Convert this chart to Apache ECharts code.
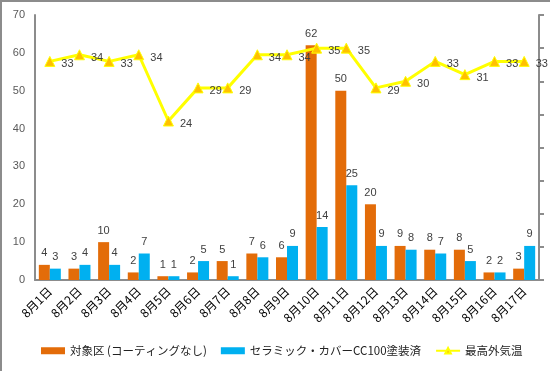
<!DOCTYPE html>
<html><head><meta charset="utf-8">
<script src="https://cdn.jsdelivr.net/npm/echarts@6/dist/echarts.min.js"></script>
<style>
html,body{margin:0;padding:0;background:#fff;}
#c{width:550px;height:371px;box-sizing:border-box;border-top:2px solid #8c8c8c;border-left:2px solid #8c8c8c;}
</style></head>
<body><div id="c"></div>
<script>
const categories = ['8月1日','8月2日','8月3日','8月4日','8月5日','8月6日','8月7日','8月8日','8月9日','8月10日','8月11日','8月12日','8月13日','8月14日','8月15日','8月16日','8月17日'];
const controlValues = [4,3,10,2,1,2,5,7,6,62,50,20,9,8,8,2,3];
const coatedValues = [3,4,4,7,1,5,1,6,9,14,25,9,8,7,5,2,9];
const maxTemp = [33,34,33,34,24,29,29,34,34,35,35,29,30,33,31,33,33];
const leftTicks = [0,10,20,30,40,50,60,70];

const chart = echarts.init(document.getElementById('c'));
const font = 'Liberation Sans, DejaVu Sans, Noto Sans CJK JP, sans-serif';
const jp = 'Noto Sans CJK JP, sans-serif';
const lblColor = '#404040';
chart.setOption({
  animation:false,
  textStyle:{fontFamily:font},
  grid:{left:33,right:11,top:13,bottom:91,containLabel:false},
  legend:{
    top:338,left:34,right:0,itemGap:14,itemWidth:24,itemHeight:7,
    textStyle:{fontSize:11.5,color:'#222',fontFamily:jp},
    data:[{name:'対象区 (コーティングなし)',icon:'rect'},{name:'セラミック・カバーCC100塗装済',icon:'rect'},{name:'最高外気温'}]
  },
  xAxis:{
    type:'category',data:categories,
    axisLine:{lineStyle:{color:'#8c8c8c',width:2}},
    axisTick:{show:false},
    axisLabel:{rotate:45,fontSize:12,color:'#000',margin:9,interval:0,fontFamily:jp}
  },
  yAxis:[
    {type:'value',min:leftTicks[0],max:leftTicks[leftTicks.length-1],interval:10,
     axisLine:{show:true,lineStyle:{color:'#8c8c8c',width:2}},axisTick:{show:false},
     splitLine:{show:false},
     axisLabel:{fontSize:11,color:'#595959',margin:10}},
    {type:'value',min:0,max:40,interval:5,position:'right',
     axisLine:{show:true,lineStyle:{color:'#8c8c8c',width:2}},
     axisTick:{show:true,inside:false,length:5,lineStyle:{color:'#8c8c8c',width:2}},
     splitLine:{show:false},axisLabel:{show:false}}
  ],
  series:[
    {name:'対象区 (コーティングなし)',type:'bar',data:controlValues,barWidth:11,barGap:'0%',
     itemStyle:{color:'#E36C09'},
     label:{show:true,position:'top',fontSize:11,color:lblColor,distance:6}},
    {name:'セラミック・カバーCC100塗装済',type:'bar',data:coatedValues,barWidth:11,
     itemStyle:{color:'#00B0F0'},
     label:{show:true,position:'top',fontSize:11,color:lblColor,distance:6}},
    {name:'最高外気温',type:'line',yAxisIndex:1,data:maxTemp,
     lineStyle:{color:'#FFFF00',width:3},
     symbol:'triangle',symbolSize:10,
     itemStyle:{color:'#FFC000',borderColor:'#FFFF00',borderWidth:1},
     label:{show:true,position:'right',fontSize:11,color:lblColor,distance:6,offset:[0,3]}}
  ]
});
</script></body></html>
